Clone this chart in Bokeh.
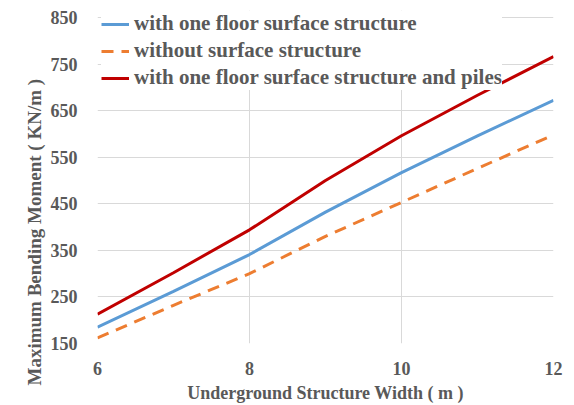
from bokeh.plotting import figure
from bokeh.models import Title, FixedTicker
from bokeh.embed import file_html
from bokeh.resources import INLINE

widths = [6, 7, 8, 9, 10, 11, 12]
with_one_floor = [185, 262, 341, 432, 517, 596, 672]
without_surface = [162, 232, 300, 380, 453, 526, 598]
with_floor_piles = [213, 302, 394, 500, 596, 683, 766]

x_ticks = [6, 8, 10, 12]
y_ticks = [150, 250, 350, 450, 550, 650, 750, 850]

FONT = "'Liberation Serif'"
TXT = "#595959"
GRID = "#d9d9d9"

p = figure(width=574, height=405, x_range=(6, 12), y_range=(150, 865),
           output_backend="svg", toolbar_location=None,
           min_border_left=97, min_border_right=21, min_border_top=10, min_border_bottom=62)

p.line(widths, with_one_floor, line_color="#5B9BD5", line_width=3,
       legend_label="with one floor surface structure")
p.line(widths, without_surface, line_color="#ED7D31", line_width=3, line_dash="12 8",
       legend_label="without surface structure")
p.line(widths, with_floor_piles, line_color="#C00000", line_width=3,
       legend_label="with one floor surface structure and piles")

p.outline_line_color = None
p.xaxis.ticker = FixedTicker(ticks=x_ticks)
p.yaxis.ticker = FixedTicker(ticks=y_ticks)
for ax in (p.xaxis, p.yaxis):
    ax.axis_line_color = None
    ax.major_tick_line_color = None
    ax.minor_tick_line_color = None
    ax.major_label_text_font = FONT
    ax.major_label_text_font_style = "bold"
    ax.major_label_text_font_size = "18px"
    ax.major_label_text_color = TXT
p.xaxis.major_label_standoff = 12
p.yaxis.major_label_standoff = 14

p.xaxis.axis_label = "Underground Structure Width ( m )"
p.xaxis.axis_label_text_font = FONT
p.xaxis.axis_label_text_font_style = "bold"
p.xaxis.axis_label_text_font_size = "18px"
p.xaxis.axis_label_text_color = TXT
p.xaxis.axis_label_standoff = 5

ytitle = Title(text="Maximum  Bending Moment ( KN/m )", align="left", offset=-42,
               text_font=FONT, text_font_style="bold", text_font_size="19px",
               text_color=TXT, standoff=6)
p.add_layout(ytitle, "left")

p.xgrid.ticker = FixedTicker(ticks=x_ticks)
p.ygrid.ticker = FixedTicker(ticks=y_ticks)
p.xgrid.bounds = (150, 850)
p.grid.grid_line_color = GRID
p.grid.grid_line_width = 1

lg = p.legend[0]
lg.location = (4, 253)
lg.margin = 0
lg.padding = 0
lg.border_line_color = None
lg.background_fill_color = "white"
lg.background_fill_alpha = 1
lg.label_text_font = FONT
lg.label_text_font_style = "bold"
lg.label_text_font_size = "21px"
lg.label_text_color = TXT
lg.glyph_width = 28
lg.glyph_height = 12
lg.label_height = 12
lg.label_standoff = 5
lg.spacing = 2

open("out.html", "w").write(file_html(p, INLINE))
